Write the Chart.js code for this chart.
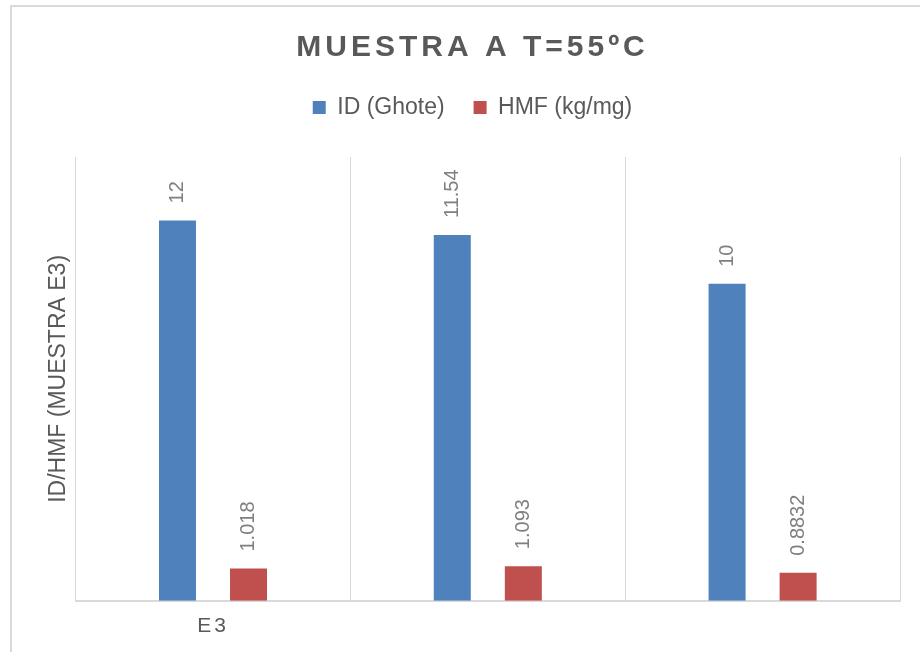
<!DOCTYPE html>
<html>
<head>
<meta charset="utf-8">
<title>MUESTRA A T=55ºC</title>
<script src="https://cdn.jsdelivr.net/npm/chart.js@4/dist/chart.umd.min.js"></script>
<style>
  html, body { margin: 0; padding: 0; background: #ffffff; overflow: hidden; }
  #wrap { position: relative; width: 920px; height: 652px; }
  #frame {
    position: absolute; left: 10px; top: 5px; width: 1200px; height: 1200px;
    border-left: 2px solid #d9d9d9; border-top: 2px solid #d9d9d9;
  }
  #chart { position: absolute; left: 0; top: 0; }
</style>
</head>
<body>
<div id="wrap">
  <div id="frame"></div>
  <canvas id="chart" width="920" height="652"></canvas>
</div>
<script>
// Samples and measured values
const categories = ['E3', '', ''];
const idGhote = [12, 11.54, 10];
const hmf = [1.018, 1.093, 0.8832];
const seriesNames = ['ID (Ghote)', 'HMF (kg/mg)'];

const FONT = '"Liberation Sans", Arial, sans-serif';
const TEXT_DARK = '#595959';
const TEXT_LIGHT = '#7f7f7f';
const LINE = '#d9d9d9';

// Extra room between the legend and the plot area
const legendGap = {
  id: 'legendGap',
  afterInit(chart) {
    const legend = chart.legend;
    if (!legend || legend._gapAdded) return;
    const fit = legend.fit.bind(legend);
    legend.fit = function () {
      fit();
      this.height += 28;
    };
    legend._gapAdded = true;
  }
};

// Wider letter spacing for the title and category labels
const spacingPlugin = {
  id: 'letterSpacing',
  beforeDraw(chart) {
    const ctx = chart.ctx;
    const wrap = (obj, method, spacing) => {
      if (!obj || obj['_spaced_' + method]) return;
      const orig = obj[method].bind(obj);
      obj[method] = function (...args) {
        ctx.save();
        ctx.letterSpacing = spacing;
        orig(...args);
        ctx.restore();
      };
      obj['_spaced_' + method] = true;
    };
    wrap(chart.titleBlock, 'draw', '4px');
    wrap(chart.scales.x, 'drawLabels', '3px');
  }
};

// Rotated value labels above each bar
const valueLabels = {
  id: 'valueLabels',
  afterDatasetsDraw(chart) {
    const ctx = chart.ctx;
    ctx.save();
    ctx.font = '20px ' + FONT;
    ctx.fillStyle = TEXT_LIGHT;
    ctx.textAlign = 'left';
    ctx.textBaseline = 'middle';
    chart.data.datasets.forEach((ds, di) => {
      const meta = chart.getDatasetMeta(di);
      meta.data.forEach((bar, i) => {
        ctx.save();
        ctx.translate(bar.x, bar.y - 17);
        ctx.rotate(-Math.PI / 2);
        ctx.fillText(String(ds.data[i]), 0, 0);
        ctx.restore();
      });
    });
    ctx.restore();
  }
};

new Chart(document.getElementById('chart'), {
  type: 'bar',
  data: {
    labels: categories,
    datasets: [
      { label: seriesNames[0], data: idGhote, backgroundColor: '#4f81bd',
        categoryPercentage: 0.517, barPercentage: 0.521 },
      { label: seriesNames[1], data: hmf, backgroundColor: '#c0504d',
        categoryPercentage: 0.517, barPercentage: 0.521 }
    ]
  },
  options: {
    responsive: false,
    devicePixelRatio: 1,
    animation: false,
    layout: { padding: { left: 45, right: 20, top: 0, bottom: 0 } },
    plugins: {
      title: {
        display: true,
        text: 'MUESTRA A T=55ºC',
        color: TEXT_DARK,
        font: { family: FONT, size: 30, weight: 'bold' },
        padding: { top: 30, bottom: 1 }
      },
      legend: {
        display: true,
        position: 'top',
        labels: {
          boxWidth: 13,
          boxHeight: 13,
          padding: 29,
          color: TEXT_DARK,
          font: { family: FONT, size: 23 }
        }
      },
      tooltip: { enabled: false }
    },
    scales: {
      x: {
        grid: { display: true, color: LINE, lineWidth: 1, drawTicks: false, offset: true },
        border: { display: true, color: LINE, width: 2 },
        ticks: { color: TEXT_DARK, font: { family: FONT, size: 21 }, padding: 13, maxRotation: 0 }
      },
      y: {
        min: 0,
        max: 14,
        grid: { display: false, drawTicks: false },
        border: { display: false },
        ticks: { display: false },
        title: {
          display: true,
          text: 'ID/HMF (MUESTRA E3)',
          color: TEXT_DARK,
          font: { family: FONT, size: 23 },
          padding: { top: 0, bottom: 3 }
        }
      }
    }
  },
  plugins: [legendGap, spacingPlugin, valueLabels]
});
</script>
</body>
</html>
